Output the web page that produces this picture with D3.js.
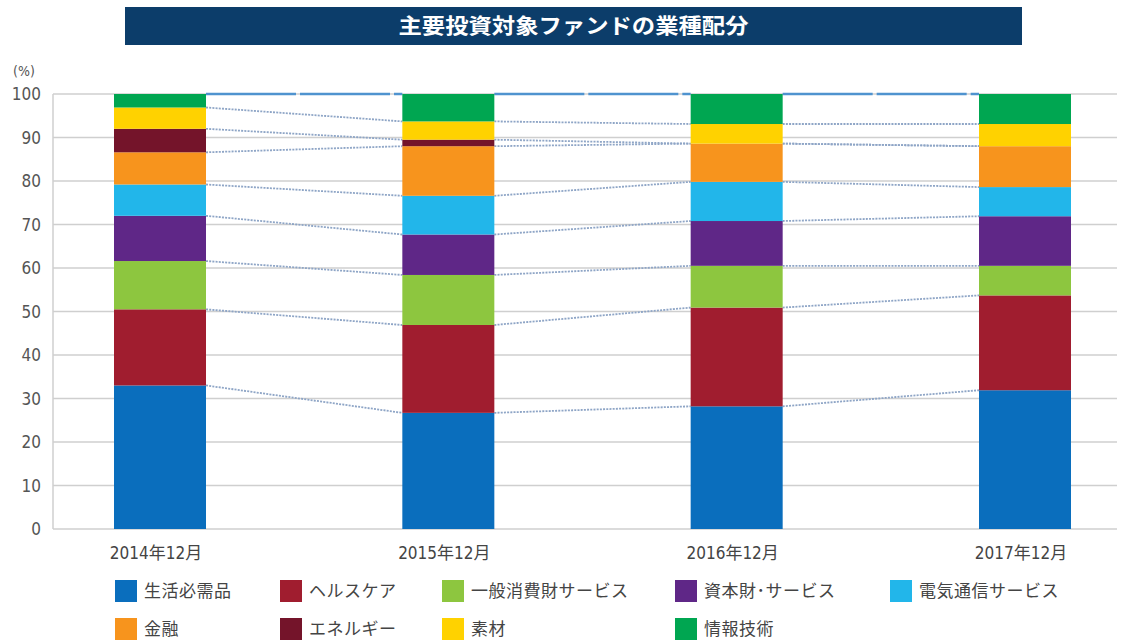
<!DOCTYPE html>
<html><head><meta charset="utf-8">
<script src="https://cdn.jsdelivr.net/npm/d3@7"></script>
<style>
body{margin:0;background:#fff;}
svg{display:block;}
text{font-family:"DejaVu Sans Condensed","Noto Sans CJK JP",sans-serif;}
.jp{font-family:"Noto Sans CJK JP","DejaVu Sans Condensed",sans-serif;}
</style></head>
<body>
<svg id="c" width="1125" height="641"></svg>
<script>
const title = "主要投資対象ファンドの業種配分";
const categories = ["2014年12月","2015年12月","2016年12月","2017年12月"];
const seriesNames = ["生活必需品","ヘルスケア","一般消費財サービス","資本財サービス","電気通信サービス","金融","エネルギー","素材","情報技術"];
const legendLabels = ["生活必需品","ヘルスケア","一般消費財サービス","資本財･サービス","電気通信サービス","金融","エネルギー","素材","情報技術"];
const colors = ["#0a6ebd","#a01d2f","#8dc63f","#5f2787","#22b6ea","#f7941d","#74142a","#ffd200","#00a651"];
const v2014 = [33.0,17.5,11.1,10.4,7.2,7.4,5.4,4.9,3.1];
const v2015 = [26.7,20.2,11.5,9.3,8.9,11.4,1.5,4.2,6.3];
const v2016 = [28.2,22.7,9.6,10.3,9.0,8.8,0.0,4.5,6.9];
const v2017 = [31.9,21.8,6.8,11.4,6.7,9.4,0.0,5.1,6.9];
const yTicks = [0,10,20,30,40,50,60,70,80,90,100];

const values = [v2014,v2015,v2016,v2017];
const rows = categories.map((c,i)=>{const o={cat:c}; seriesNames.forEach((s,j)=>o[s]=values[i][j]); return o;});
const stacked = d3.stack().keys(seriesNames)(rows);

const svg = d3.select("#c");
const x = d3.scalePoint().domain(categories).range([160,1025]);
const bw = 92;
const y = d3.scaleLinear().domain([0,100]).range([529,94]);

// title bar
svg.append("rect").attr("x",125).attr("y",7).attr("width",897).attr("height",38).attr("fill","#0c3d6a");
svg.append("text").attr("class","jp").attr("x",573.5).attr("y",26).attr("dy","0.35em")
  .attr("text-anchor","middle").attr("fill","#fff").attr("font-size",21).attr("font-weight","bold")
  .attr("textLength",350).attr("lengthAdjust","spacingAndGlyphs").text(title);

// grid
svg.append("g").selectAll("line").data(yTicks).join("line")
  .attr("x1",53).attr("x2",1117).attr("y1",d=>y(d)).attr("y2",d=>y(d))
  .attr("stroke","#cfcfcf").attr("stroke-width",1.5);
svg.append("line").attr("x1",53).attr("x2",53).attr("y1",y(100)).attr("y2",y(0)).attr("stroke","#cfcfcf").attr("stroke-width",1.5);

// y labels
svg.append("g").selectAll("text").data(yTicks).join("text")
  .attr("x",41).attr("y",d=>y(d)).attr("dy","0.36em").attr("text-anchor","end")
  .attr("fill","#555").attr("font-size",17).text(d=>d);
svg.append("text").attr("x",13).attr("y",71).attr("dy","0.35em").attr("fill","#555").attr("font-size",14).text("(%)");

// connectors
const conn = svg.append("g");
for(let i=0;i<categories.length-1;i++){
  stacked.forEach((s,k)=>{
    const a = s[i][1], b = s[i+1][1];
    const top = k===stacked.length-1;
    conn.append("line")
      .attr("x1",x(categories[i])+bw/2).attr("x2",x(categories[i+1])-bw/2)
      .attr("y1",y(a)).attr("y2",y(b))
      .attr("stroke",top?"#4f93cf":"#8ea5c6").attr("stroke-width",top?2.5:1.8)
      .attr("stroke-dasharray",top?"90,4":"2,1.2");
  });
}

// bars
svg.append("g").selectAll("g").data(stacked).join("g").attr("fill",(d,i)=>colors[i])
  .selectAll("rect").data(d=>d).join("rect")
  .attr("x",d=>x(d.data.cat)-bw/2).attr("width",bw)
  .attr("y",d=>y(d[1])).attr("height",d=>y(d[0])-y(d[1]));

// x labels
svg.append("g").selectAll("text").data(categories).join("text")
  .attr("x",d=>x(d)-4).attr("y",553).attr("dy","0.35em").attr("text-anchor","middle")
  .attr("fill","#444").attr("font-size",17).text(d=>d);

// legend
const legX = [115,280,442,675,890,115,280,442,675];
const legY = [580,580,580,580,580,618,618,618,618];
const lg = svg.append("g").selectAll("g").data(legendLabels).join("g")
  .attr("transform",(d,i)=>`translate(${legX[i]},${legY[i]})`);
lg.append("rect").attr("width",22).attr("height",22).attr("fill",(d,i)=>colors[i]);
lg.append("text").attr("class","jp").attr("x",29).attr("y",11).attr("dy","0.36em")
  .attr("fill","#444").attr("font-size",17).attr("letter-spacing",0.5).text(d=>d);
</script>
</body></html>
